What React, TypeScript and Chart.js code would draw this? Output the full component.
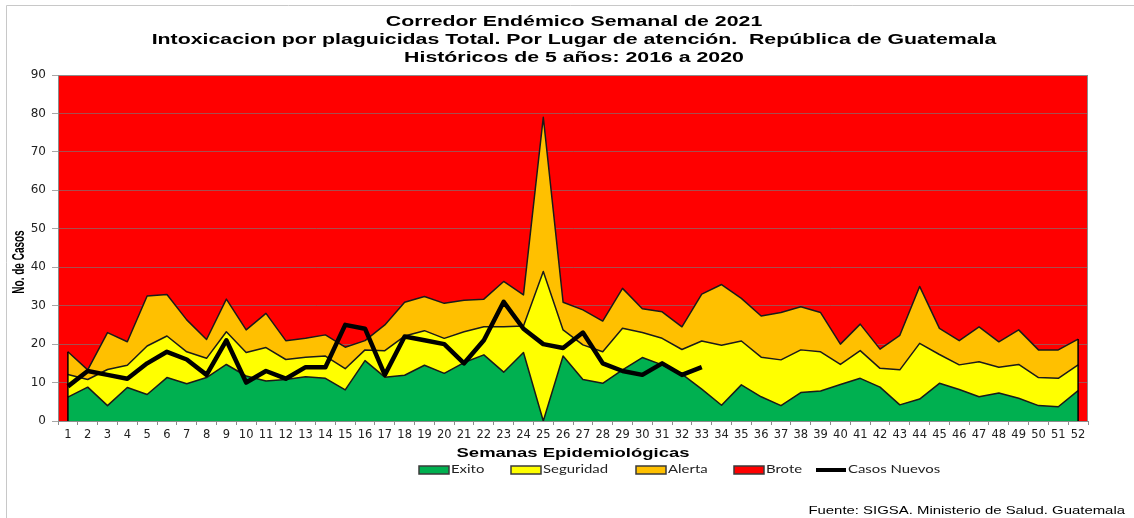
import React, { useEffect, useRef } from "react";
import { Chart, registerables } from "chart.js";

Chart.register(...registerables);

const titleLines = [
  "Corredor Endémico Semanal de 2021",
  "Intoxicacion por plaguicidas Total. Por Lugar de atención.  República de Guatemala",
  "Históricos de 5 años: 2016 a 2020",
];
const yAxisTitle = "No. de Casos";
const xAxisTitle = "Semanas Epidemiológicas";
const footnote = "Fuente: SIGSA. Ministerio de Salud. Guatemala";

const weeks = [
  "1", "2", "3", "4", "5", "6", "7", "8", "9", "10",
  "11", "12", "13", "14", "15", "16", "17", "18", "19", "20",
  "21", "22", "23", "24", "25", "26", "27", "28", "29", "30",
  "31", "32", "33", "34", "35", "36", "37", "38", "39", "40",
  "41", "42", "43", "44", "45", "46", "47", "48", "49", "50",
  "51", "52",
];

// upper limit of each zone
const exito = [
  6.2, 8.8, 4.0, 8.7, 6.9, 11.3, 9.7, 11.3, 14.7, 11.7,
  10.4, 10.8, 11.5, 11.1, 8.1, 15.7, 11.4, 11.9, 14.5, 12.4,
  15.2, 17.2, 12.7, 17.8, 0, 16.9, 10.8, 9.8, 13.3, 16.5,
  14.6, 12.2, 8.3, 4.1, 9.4, 6.3, 4.0, 7.4, 7.8, 9.5,
  11.1, 8.8, 4.2, 5.7, 9.8, 8.2, 6.3, 7.3, 5.9, 4.0,
  3.7, 7.9,
];
const seguridad = [
  12.1, 10.8, 13.4, 14.5, 19.5, 22.1, 18.0, 16.3, 23.2, 17.8,
  19.1, 16.0, 16.6, 16.9, 13.6, 18.5, 18.3, 22.1, 23.5, 21.5,
  23.2, 24.5, 24.5, 24.7, 38.9, 23.7, 19.8, 18.0, 24.1, 23.0,
  21.5, 18.6, 20.8, 19.7, 20.8, 16.6, 15.9, 18.5, 18.0, 14.7,
  18.3, 13.7, 13.3, 20.2, 17.3, 14.6, 15.4, 14.0, 14.7, 11.3,
  11.1, 14.6,
];
const alerta = [
  18.0, 13.3, 23.0, 20.6, 32.5, 32.9, 26.3, 21.2, 31.7, 23.7,
  28.0, 20.9, 21.5, 22.4, 19.2, 20.9, 25.0, 30.9, 32.4, 30.6,
  31.4, 31.7, 36.3, 32.8, 79.0, 30.9, 28.9, 26.0, 34.5, 29.2,
  28.4, 24.5, 33.0, 35.5, 31.9, 27.3, 28.2, 29.7, 28.2, 20.0,
  25.2, 18.7, 22.3, 35.0, 24.1, 20.9, 24.5, 20.6, 23.7, 18.5,
  18.5, 21.3,
];
const casosNuevos = [
  9, 13, 12, 11, 15, 18, 16, 12, 21, 10,
  13, 11, 14, 14, 25, 24, 12, 22, 21, 20,
  15, 21, 31, 24, 20, 19, 23, 15, 13, 12,
  15, 12, 14,
];

const legendNames = ["Exito", "Seguridad", "Alerta", "Brote", "Casos Nuevos"];
const COLORS = {
  exito: "#00b050",
  seguridad: "#ffff00",
  alerta: "#ffc000",
  brote: "#ff0000",
  casos: "#000000",
};

const STRETCH = 1.42;

function stretchedText(
  ctx: CanvasRenderingContext2D,
  text: string,
  x: number,
  y: number,
  font: string,
  align: CanvasTextAlign,
  color: string,
  rotate = 0,
  stretch = STRETCH
) {
  ctx.save();
  ctx.translate(x, y);
  if (rotate) ctx.rotate(rotate);
  if (rotate) ctx.scale(1, stretch);
  else ctx.scale(stretch, 1);
  ctx.font = font;
  ctx.fillStyle = color;
  ctx.textAlign = align;
  ctx.textBaseline = "middle";
  ctx.fillText(text, 0, 0);
  ctx.restore();
}

const decorPlugin = {
  id: "decor",
  beforeDraw(chart: any) {
    const { ctx, chartArea: a, width, height } = chart;
    ctx.save();
    ctx.fillStyle = "#ffffff";
    ctx.fillRect(0, 0, width, height);
    ctx.strokeStyle = "#c8c8c8";
    ctx.lineWidth = 1;
    ctx.beginPath();
    ctx.moveTo(6.5, height + 2);
    ctx.lineTo(6.5, 5.5);
    ctx.lineTo(width + 2, 5.5);
    ctx.stroke();
    ctx.fillStyle = COLORS.brote;
    ctx.fillRect(a.left, a.top, a.right - a.left, a.bottom - a.top);
    ctx.restore();
  },
  beforeDatasetsDraw(chart: any) {
    const { ctx, chartArea: a } = chart;
    ctx.save();
    ctx.strokeStyle = "#8c8c8c";
    ctx.lineWidth = 1;
    ctx.strokeRect(a.left + 0.5, a.top + 0.5, a.right - a.left - 1, a.bottom - a.top);
    ctx.restore();
  },
  beforeDatasetDraw(chart: any, args: any) {
    if (args.index !== 3) return;
    const { ctx } = chart;
    const x = chart.scales.x;
    const y = chart.scales.y;
    ctx.save();
    ctx.strokeStyle = "#000";
    ctx.lineWidth = 1.5;
    [0, weeks.length - 1].forEach((i) => {
      const px = x.getPixelForValue(i);
      ctx.beginPath();
      ctx.moveTo(px, y.getPixelForValue(0));
      ctx.lineTo(px, y.getPixelForValue(alerta[i]));
      ctx.stroke();
    });
    ctx.restore();
  },
  afterDraw(chart: any) {
    const { ctx, chartArea: a } = chart;
    const cx = (a.left + a.right) / 2 + 1;
    const tf = "bold 15px 'Liberation Sans', Arial, sans-serif";
    const ty = [21.5, 39.5, 57.5];
    titleLines.forEach((t, i) => stretchedText(ctx, t, cx, ty[i], tf, "center", "#000"));

    stretchedText(
      ctx,
      yAxisTitle,
      19.5,
      (a.top + a.bottom) / 2 + 14,
      "bold 10px 'Liberation Sans', Arial, sans-serif",
      "center",
      "#000",
      -Math.PI / 2,
      1.6
    );
    stretchedText(
      ctx,
      xAxisTitle,
      (a.left + a.right) / 2,
      453,
      "bold 13px 'Liberation Sans', Arial, sans-serif",
      "center",
      "#000"
    );

    // legend
    const ly = 470;
    const starts = [419, 511, 636, 734, 816];
    const fills = [COLORS.exito, COLORS.seguridad, COLORS.alerta, COLORS.brote];
    const lf = "10.5px Lato, 'Open Sans', sans-serif";
    legendNames.forEach((name, i) => {
      const sx = starts[i];
      ctx.save();
      if (i < 4) {
        ctx.fillStyle = fills[i];
        ctx.fillRect(sx, ly - 4, 30, 8);
        ctx.strokeStyle = "#3a3a3a";
        ctx.lineWidth = 1.5;
        ctx.strokeRect(sx, ly - 4, 30, 8);
      } else {
        ctx.strokeStyle = COLORS.casos;
        ctx.lineWidth = 4;
        ctx.beginPath();
        ctx.moveTo(sx, ly);
        ctx.lineTo(sx + 30, ly);
        ctx.stroke();
      }
      ctx.restore();
      stretchedText(ctx, name, sx + 32, ly, lf, "left", "#222");
    });

    stretchedText(
      ctx,
      footnote,
      1125,
      511,
      "10.5px 'Liberation Sans', Arial, sans-serif",
      "right",
      "#000"
    );
  },
};

export default function App() {
  const ref = useRef<HTMLCanvasElement | null>(null);
  useEffect(() => {
    if (!ref.current) return;
    const lineBorder = "#1a1a1a";
    const chart = new Chart(ref.current, {
      type: "line",
      data: {
        labels: weeks,
        datasets: [
          {
            label: legendNames[0],
            data: exito,
            backgroundColor: COLORS.exito,
            borderColor: lineBorder,
            borderWidth: 1.5,
            fill: "origin",
            order: 1,
          },
          {
            label: legendNames[1],
            data: seguridad,
            backgroundColor: COLORS.seguridad,
            borderColor: lineBorder,
            borderWidth: 1.5,
            fill: "-1",
            order: 2,
          },
          {
            label: legendNames[2],
            data: alerta,
            backgroundColor: COLORS.alerta,
            borderColor: lineBorder,
            borderWidth: 1.5,
            fill: "-1",
            order: 3,
          },
          {
            label: legendNames[4],
            data: casosNuevos,
            borderColor: COLORS.casos,
            borderWidth: 4.5,
            fill: false,
            order: 0,
          },
        ],
      },
      options: {
        responsive: false,
        animation: false,
        events: [],
        elements: {
          point: { radius: 0, hoverRadius: 0 },
          line: { tension: 0, borderJoinStyle: "round" },
        },
        layout: { padding: { top: 75, right: 46, left: 0, bottom: 0 } },
        plugins: {
          legend: { display: false },
          title: { display: false },
          tooltip: { enabled: false },
        },
        scales: {
          x: {
            type: "category",
            offset: true,
            afterFit: (s: any) => {
              s.height = 97;
            },
            grid: {
              display: true,
              drawOnChartArea: false,
              offset: true,
              tickLength: 4,
              color: "#8c8c8c",
            },
            border: { display: true, color: "#8c8c8c" },
            ticks: {
              autoSkip: false,
              maxRotation: 0,
              minRotation: 0,
              padding: 3,
              color: "#222",
              font: { family: "'DejaVu Sans', sans-serif", size: 11.5 },
            },
          },
          y: {
            min: 0,
            max: 90,
            afterFit: (s: any) => {
              s.width = 58;
            },
            grid: {
              color: "rgba(120,120,120,0.65)",
              tickLength: 6,
            },
            border: { display: true, color: "#8c8c8c" },
            ticks: {
              stepSize: 10,
              padding: 6,
              color: "#222",
              font: { family: "'DejaVu Sans', sans-serif", size: 12 },
            },
          },
        },
      },
      plugins: [decorPlugin],
    } as any);
    return () => chart.destroy();
  }, []);

  return (
    <div
      style={{
        position: "absolute",
        left: 0,
        top: 0,
        width: 1134,
        height: 518,
        background: "#fff",
      }}
    >
      <canvas ref={ref} width={1134} height={518} style={{ display: "block" }} />
    </div>
  );
}
